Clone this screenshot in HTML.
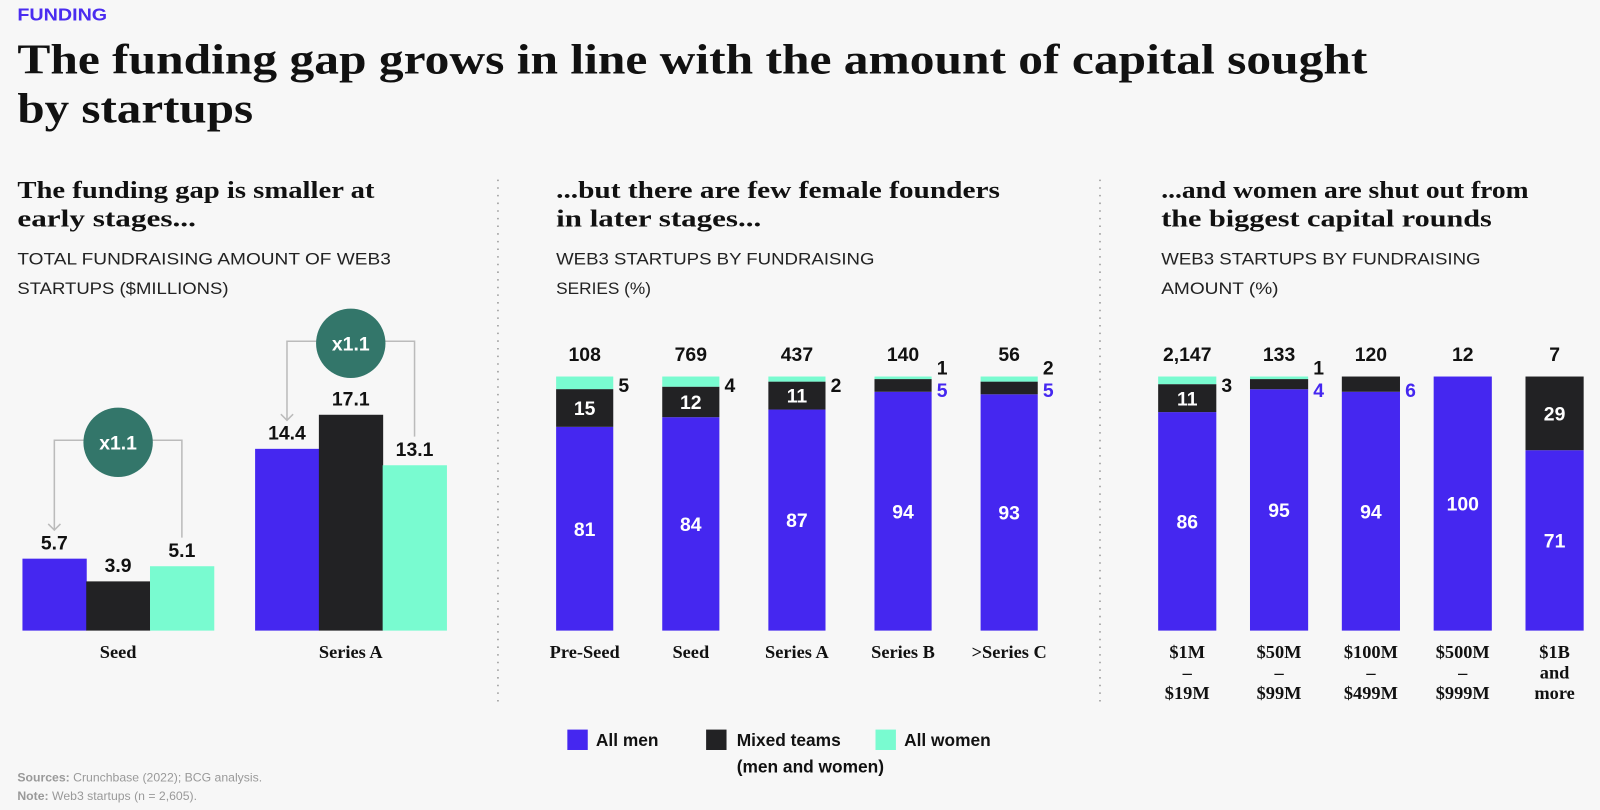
<!DOCTYPE html>
<html><head><meta charset="utf-8">
<style>
html,body{margin:0;padding:0;background:#f7f7f7;}
svg{display:block;}
.sans{font-family:"Liberation Sans",sans-serif;}
.serif{font-family:"Liberation Serif",serif;}
</style></head>
<body>
<svg id="chart" width="1600" height="810" viewBox="0 0 1600 810" xmlns="http://www.w3.org/2000/svg">
<rect x="0" y="0" width="1600" height="810" fill="#f7f7f7"/>
<g transform="scale(1.0204)">
<text x="17" y="20" class="sans" font-size="17" font-weight="bold" fill="#4a2cf0" textLength="88" lengthAdjust="spacingAndGlyphs">FUNDING</text>
<text x="17" y="72" class="serif" font-size="41" font-weight="bold" fill="#111" textLength="1323" lengthAdjust="spacingAndGlyphs">The funding gap grows in line with the amount of capital sought</text>
<text x="17" y="120" class="serif" font-size="41" font-weight="bold" fill="#111" textLength="231" lengthAdjust="spacingAndGlyphs">by startups</text>

<line x1="488" y1="176" x2="488" y2="688" stroke="#999" stroke-width="1.5" stroke-dasharray="1.5,6"/>
<line x1="1078" y1="176" x2="1078" y2="688" stroke="#999" stroke-width="1.5" stroke-dasharray="1.5,6"/>

<g class="serif" font-size="24" font-weight="bold" fill="#111">
<text x="17" y="194" textLength="350" lengthAdjust="spacingAndGlyphs">The funding gap is smaller at</text>
<text x="17" y="222" textLength="175" lengthAdjust="spacingAndGlyphs">early stages...</text>
<text x="545" y="194" textLength="435" lengthAdjust="spacingAndGlyphs">...but there are few female founders</text>
<text x="545" y="222" textLength="201" lengthAdjust="spacingAndGlyphs">in later stages...</text>
<text x="1138" y="194" textLength="360" lengthAdjust="spacingAndGlyphs">...and women are shut out from</text>
<text x="1138" y="222" textLength="324" lengthAdjust="spacingAndGlyphs">the biggest capital rounds</text>
</g>
<g class="sans" font-size="16" fill="#222">
<text x="17" y="259" textLength="366" lengthAdjust="spacingAndGlyphs">TOTAL FUNDRAISING AMOUNT OF WEB3</text>
<text x="17" y="288" textLength="207" lengthAdjust="spacingAndGlyphs">STARTUPS ($MILLIONS)</text>
<text x="545" y="259" textLength="312" lengthAdjust="spacingAndGlyphs">WEB3 STARTUPS BY FUNDRAISING</text>
<text x="545" y="288" textLength="93" lengthAdjust="spacingAndGlyphs">SERIES (%)</text>
<text x="1138" y="259" textLength="313" lengthAdjust="spacingAndGlyphs">WEB3 STARTUPS BY FUNDRAISING</text>
<text x="1138" y="288" textLength="115" lengthAdjust="spacingAndGlyphs">AMOUNT (%)</text>
</g>

<g id="left"></g>
<g id="mid"></g>
<g id="right"></g>

<g class="sans" font-size="17" font-weight="bold" fill="#111">
<rect x="556" y="715" width="20" height="20" fill="#4527f0"/>
<text x="584" y="731">All men</text>
<rect x="692" y="715" width="20" height="20" fill="#222224"/>
<text x="722" y="731">Mixed teams</text>
<text x="722" y="757">(men and women)</text>
<rect x="858" y="715" width="20" height="20" fill="#79fbd0"/>
<text x="886" y="731">All women</text>
</g>
<g class="sans" font-size="12" fill="#999">
<text x="17" y="766"><tspan font-weight="bold">Sources:</tspan> Crunchbase (2022); BCG analysis.</text>
<text x="17" y="784"><tspan font-weight="bold">Note:</tspan> Web3 startups (n = 2,605).</text>
</g>
</g>
</svg>
<script>
// Left chart data
const leftCategories = ["Seed", "Series A"];
const leftMen = [5.7, 14.4];
const leftMixed = [3.9, 17.1];
const leftWomen = [5.1, 13.1];
const leftMultipliers = ["x1.1", "x1.1"];
// Middle chart data
const midCategories = ["Pre-Seed", "Seed", "Series A", "Series B", ">Series C"];
const midTotals = ["108", "769", "437", "140", "56"];
const midMen = [81, 84, 87, 94, 93];
const midMixed = [15, 12, 11, 5, 5];
const midWomen = [5, 4, 2, 1, 2];
// Right chart data
const rightCategories = [["$1M","–","$19M"], ["$50M","–","$99M"], ["$100M","–","$499M"], ["$500M","–","$999M"], ["$1B","and","more"]];
const rightTotals = ["2,147", "133", "120", "12", "7"];
const rightMen = [86, 95, 94, 100, 71];
const rightMixed = [11, 4, 6, 0, 29];
const rightWomen = [3, 1, 0, 0, 0];

const NS = "http://www.w3.org/2000/svg";
const COLORS = ["#4527f0", "#222224", "#79fbd0"];
function mk(parent, tag, attrs, text) {
  const e = document.createElementNS(NS, tag);
  for (const k in attrs) e.setAttribute(k, attrs[k]);
  if (text !== undefined) e.textContent = text;
  parent.appendChild(e);
  return e;
}
const BASE = 618;

// ---- Left grouped bars
(function(){
  const g = document.getElementById("left");
  const yScale = v => v * 12.37;
  const groupX = i => 22 + i * 228;
  const bw = 62.5;
  const badgeGap = [116, 72];
  leftCategories.forEach((cat, i) => {
    const vals = [leftMen[i], leftMixed[i], leftWomen[i]];
    const tops = [];
    vals.forEach((v, j) => {
      const x = groupX(i) + j * bw, h = yScale(v);
      tops.push(BASE - h);
      const r = mk(g, "rect", {x: x, y: BASE - h, width: bw + 0.5, height: h, fill: COLORS[j]});
      
      
      const t = mk(g, "text", {x: x + bw/2, y: BASE - h - 9, "text-anchor": "middle", "font-size": 19, "font-weight": "bold", fill: "#111", class: "sans"}, v.toFixed(1));
      
      
    });
    const lab = mk(g, "text", {x: groupX(i) + bw*1.5, y: 645, "text-anchor": "middle", "font-size": 18, "font-weight": "bold", fill: "#111", class: "serif"}, cat);
    
    
    const top = Math.min(...tops);
    const by = top - badgeGap[i];
    const cx = groupX(i) + bw*1.5;
    const lx = groupX(i) + bw*0.5, rx = groupX(i) + bw*2.5;
    const br = mk(g, "path", {d: `M${lx},${tops[0]-28} L${lx},${by} L${rx},${by} L${rx},${tops[2]-28}`, fill: "none", stroke: "#bbb", "stroke-width": 1.5});
    
    
    const ar = mk(g, "path", {d: `M${lx-6},${tops[0]-34} L${lx},${tops[0]-28} L${lx+6},${tops[0]-34}`, fill: "none", stroke: "#bbb", "stroke-width": 1.5});
    
    
    const c = mk(g, "circle", {cx: cx, cy: by + 2, r: 34, fill: "#33766a"});
    
    
    const ct = mk(g, "text", {x: cx, y: by + 9, "text-anchor": "middle", "font-size": 19, "font-weight": "bold", fill: "#fff", class: "sans"}, leftMultipliers[i]);
    
    
  });
})();

// ---- Stacked bars
function stacked(gid, cats, totals, men, mixed, women, xStart, step, bw, multiLine) {
  const g = document.getElementById(gid);
  const H = 249;
  const xPos = i => xStart + i * step;
  cats.forEach((cat, i) => {
    const vals = [men[i], mixed[i], women[i]];
    const sum = vals.reduce((a,b)=>a+b,0);
    const sc = v => v / sum * H;
    let y = BASE;
    const x = xPos(i);
    vals.forEach((v, j) => {
      const h = sc(v);
      y -= h;
      if (v <= 0) return;
      const r = mk(g, "rect", {x: x, y: y, width: bw, height: h, fill: COLORS[j]});
      
      
      if (h > 24) {
        const t = mk(g, "text", {x: x + bw/2, y: y + h/2 + 7, "text-anchor": "middle", "font-size": 19, "font-weight": "bold", fill: "#fff", class: "sans"}, v);
        
        
      }
    });
    const top = BASE - H;
    const mixedSmall = mixed[i] > 0 && sc(mixed[i]) <= 24;
    if (mixedSmall) {
      const t = mk(g, "text", {x: x + bw + 5, y: top + 20, "font-size": 19, "font-weight": "bold", fill: "#4527f0", class: "sans"}, mixed[i]);
      
      
    }
    if (women[i] > 0) {
      const t = mk(g, "text", {x: x + bw + 5, y: mixedSmall ? top - 2 : top + 15, "font-size": 19, "font-weight": "bold", fill: "#111", class: "sans"}, women[i]);
      
      
    }
    const tt = mk(g, "text", {x: x + bw/2, y: top - 15, "text-anchor": "middle", "font-size": 19, "font-weight": "bold", fill: "#111", class: "sans"}, totals[i]);
    
    
    const lines = Array.isArray(cat) ? cat : [cat];
    lines.forEach((ln, k) => {
      const l = mk(g, "text", {x: x + bw/2, y: 645 + k * (multiLine ? 20 : 0), "text-anchor": "middle", "font-size": 18, "font-weight": "bold", fill: "#111", class: "serif"}, ln);
      
      
    });
  });
}
stacked("mid", midCategories, midTotals, midMen, midMixed, midWomen, 545, 104, 56, false);
stacked("right", rightCategories, rightTotals, rightMen, rightMixed, rightWomen, 1135, 90, 57, true);
</script>
</body></html>
